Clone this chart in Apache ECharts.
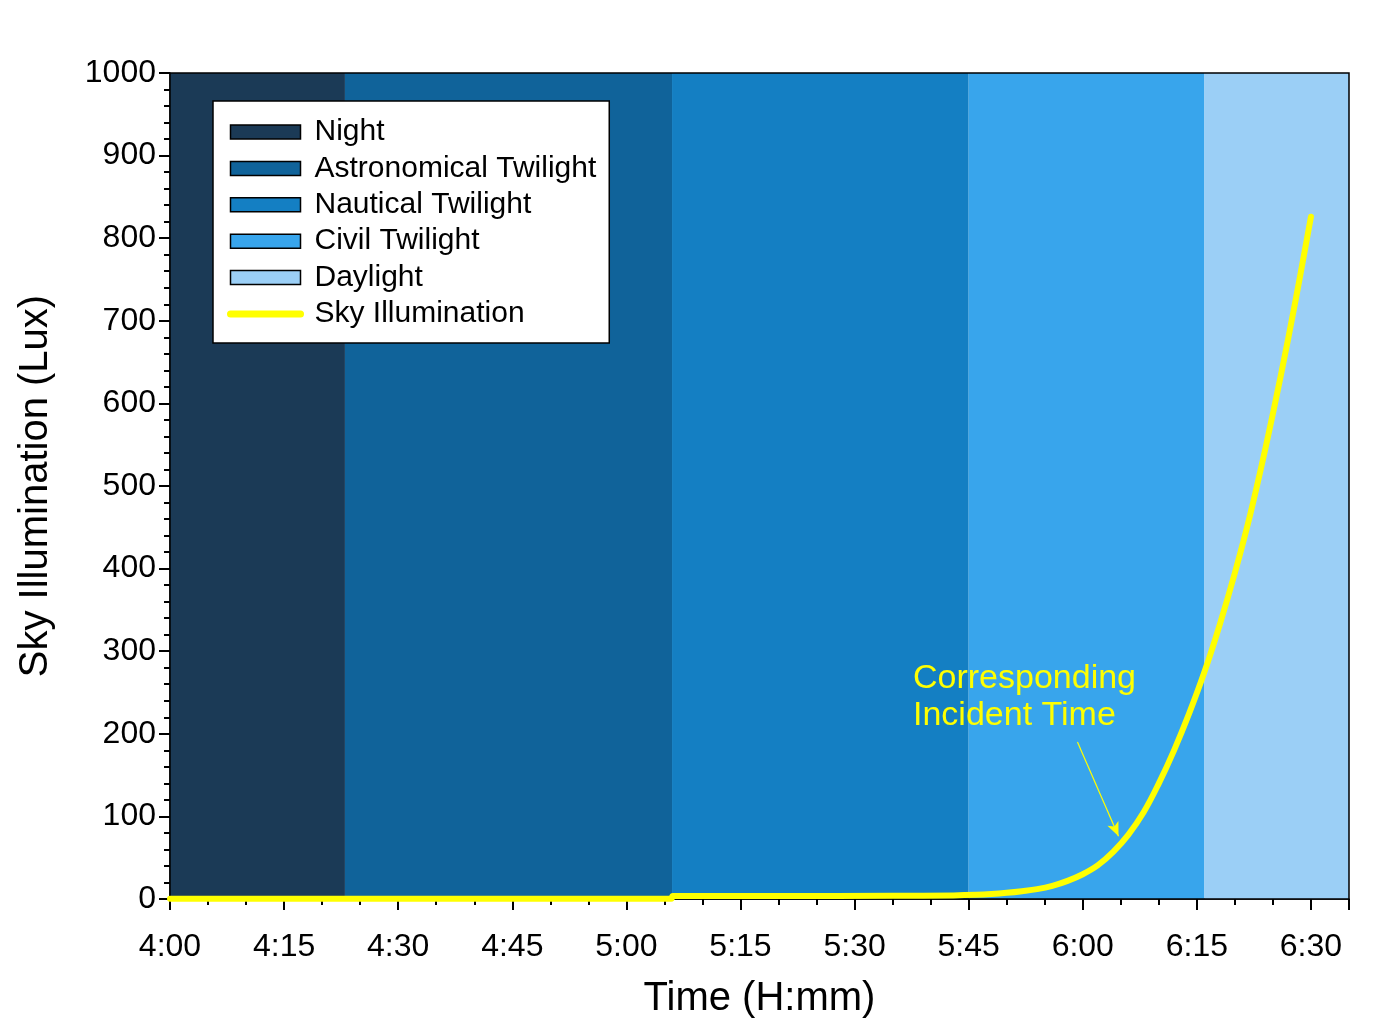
<!DOCTYPE html>
<html>
<head>
<meta charset="utf-8">
<script src="https://cdn.jsdelivr.net/npm/echarts@6/dist/echarts.min.js"></script>
<style>html,body{margin:0;padding:0;background:#fff;}#c{width:1386px;height:1030px;}</style>
</head>
<body>
<div id="c"></div>
<script>
// ---- data ----
const bandNames = ['Night', 'Astronomical Twilight', 'Nautical Twilight', 'Civil Twilight', 'Daylight'];
const bandStart = [240, 263, 306, 345, 376];   // minutes after midnight
const bandEnd   = [263, 306, 345, 376, 395];
const timeMinutes = [240, 260, 280, 300, 305.9, 306.1, 320, 335, 343, 346, 348, 350, 352, 354, 356, 358, 360, 362, 364, 366, 368, 370, 372, 374, 376, 378, 380, 382, 384, 386, 388, 390];
const illumination = [0.3, 0.3, 0.3, 0.3, 0.3, 3.5, 3.6, 3.8, 4.3, 5, 6, 7.5, 9.5, 12, 16, 22, 30, 41, 57, 78, 105, 140, 180, 225, 275, 332, 395, 465, 545, 632, 726, 826];
const xTickInterval = 15;
const yTicks = [0, 100, 200, 300, 400, 500, 600, 700, 800, 900, 1000];
const arrowFrom = [359.3, 190];
const arrowTo = [364.7, 76];

// ---- styles ----
const bandColors = ['#1b3a56', '#10639a', '#147fc3', '#38a5ec', '#9bcff6'];
const FONT = "'Liberation Sans', Arial, sans-serif";

function fmtTime(v) {
  const h = Math.floor(v / 60), m = Math.round(v % 60);
  return h + ':' + (m < 10 ? '0' : '') + m;
}

const chart = echarts.init(document.getElementById('c'), null, {renderer: 'canvas'});

const bandSeries = bandNames.map((name, i) => ({
  name: name,
  type: 'custom',
  xAxisIndex: 0,
  yAxisIndex: 0,
  itemStyle: {color: bandColors[i]},
  silent: true,
  z: 1,
  data: [[bandStart[i], bandEnd[i]]],
  encode: {x: [0, 1]},
  renderItem: function (params, api) {
    const p0 = api.coord([api.value(0), yTicks[yTicks.length - 1]]);
    const p1 = api.coord([api.value(1), yTicks[0]]);
    return {
      type: 'rect',
      shape: {x: p0[0], y: p0[1], width: p1[0] - p0[0], height: p1[1] - p0[1]},
      style: {fill: bandColors[i]}
    };
  }
}));

const lineData = timeMinutes.map((t, i) => [t, illumination[i]]);

const option = {
  animation: false,
  textStyle: {fontFamily: FONT},
  grid: {left: 170, top: 73, right: 37, bottom: 131, show: true, borderColor: '#000', borderWidth: 1.5, backgroundColor: 'transparent', z: 5},
  legend: {
    orient: 'vertical',
    left: 213, top: 101,
    backgroundColor: '#fff',
    borderColor: '#000', borderWidth: 1.5,
    padding: [13, 13, 11, 14],
    itemWidth: 70, itemHeight: 14, itemGap: 0.4,
    textStyle: {fontFamily: FONT, fontSize: 30, color: '#000', lineHeight: 36, padding: [0, 0, 0, 9]},
    selectedMode: false,
    data: bandNames.map((n, i) => ({name: n, icon: 'rect', itemStyle: {color: bandColors[i], borderColor: '#000', borderWidth: 1.5}}))
      .concat([{name: 'Sky Illumination', itemStyle: {opacity: 0}, lineStyle: {color: '#ffff00', width: 7, cap: 'round'}}])
  },
  xAxis: [{
    type: 'value', min: 240, max: 395, interval: xTickInterval,
    name: 'Time (H:mm)', nameLocation: 'middle', nameGap: 80,
    nameTextStyle: {fontFamily: FONT, fontSize: 40, color: '#000'},
    axisLine: {show: true, lineStyle: {color: '#000', width: 1.5}},
    axisTick: {show: true, inside: false, length: 11, lineStyle: {color: '#000', width: 2}},
    axisLabel: {fontFamily: FONT, fontSize: 32, color: '#000', margin: 32,
      formatter: v => (v % xTickInterval === 0 ? fmtTime(v) : '')},
    splitLine: {show: false}
  }, {
    type: 'value', min: 240, max: 395, interval: 5, position: 'bottom',
    axisLine: {show: false},
    axisTick: {show: true, inside: false, length: 6, lineStyle: {color: '#000', width: 2}},
    axisLabel: {show: false},
    splitLine: {show: false}
  }],
  yAxis: {
    type: 'value', min: yTicks[0], max: yTicks[yTicks.length - 1], interval: 100,
    name: 'Sky Illumination (Lux)', nameLocation: 'middle', nameGap: 114,
    nameTextStyle: {fontFamily: FONT, fontSize: 40, color: '#000'},
    axisLine: {show: true, lineStyle: {color: '#000', width: 1.5}},
    axisTick: {show: true, inside: false, length: 11, lineStyle: {color: '#000', width: 2}},
    minorTick: {show: true, splitNumber: 5, length: 6, lineStyle: {color: '#000', width: 2}},
    axisLabel: {fontFamily: FONT, fontSize: 32, color: '#000', margin: 14, formatter: v => String(v)},
    splitLine: {show: false}
  },
  series: bandSeries.concat([{
    name: 'Sky Illumination',
    type: 'line',
    data: lineData,
    showSymbol: false,
    symbol: 'none',
    smooth: 0.4,
    clip: false,
    z: 10,
    itemStyle: {color: '#ffff00'},
    lineStyle: {color: '#ffff00', width: 6, cap: 'round', join: 'round'},
    markLine: {
      silent: true,
      symbol: ['none', 'arrow'],
      symbolSize: [9, 14],
      label: {show: false},
      lineStyle: {color: '#ffff00', width: 1.2, type: 'solid'},
      data: [[{coord: arrowFrom}, {coord: arrowTo}]]
    }
  }]),
  graphic: [{
    type: 'text', left: 913, top: 660, z: 20,
    style: {text: 'Corresponding\nIncident Time', fill: '#ffff00', font: "34px 'Liberation Sans', Arial, sans-serif", lineHeight: 37}
  }]
};
chart.setOption(option);
</script>
</body>
</html>
